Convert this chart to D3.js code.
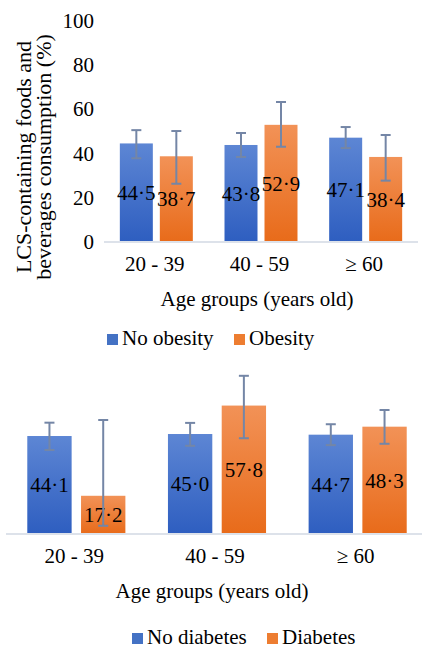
<!DOCTYPE html>
<html>
<head>
<meta charset="utf-8">
<script src="https://cdn.jsdelivr.net/npm/d3@7"></script>
<style>
  html, body { margin: 0; padding: 0; background: #fff; }
  svg { display: block; }
  text { font-family: "Liberation Serif", "Times New Roman", serif; fill: #000; }
</style>
</head>
<body>
<svg id="chart" width="422" height="651"></svg>
<script>
// ---- Data ----
const ageGroups = ["20 - 39", "40 - 59", "\u2265 60"];
const yTicks = [0, 20, 40, 60, 80, 100];

// Panel 1: obesity
const seriesObesity = ["No obesity", "Obesity"];
const noObesity = [44.5, 43.8, 47.1];
const noObesityLow = [37.8, 38.4, 42.4];
const noObesityHigh = [50.5, 49.2, 51.9];
const obesity = [38.7, 52.9, 38.4];
const obesityLow = [26.3, 43.0, 27.7];
const obesityHigh = [50.1, 63.2, 48.3];

// Panel 2: diabetes
const seriesDiabetes = ["No diabetes", "Diabetes"];
const noDiabetes = [44.1, 45.0, 44.7];
const noDiabetesLow = [37.8, 39.7, 40.0];
const noDiabetesHigh = [50.1, 50.0, 49.4];
const diabetes = [17.2, 57.8, 48.3];
const diabetesLow = [3.7, 43.1, 40.6];
const diabetesHigh = [51.3, 71.2, 55.8];

const xTitle = "Age groups (years old)";
const yTitleLines = ["LCS-containing foods and", "beverages consumption (%)"];

// ---- Drawing ----
const svg = d3.select("#chart");
const defs = svg.append("defs");
function grad(id, top, bottom) {
  const g = defs.append("linearGradient").attr("id", id)
    .attr("x1", 0).attr("y1", 0).attr("x2", 0).attr("y2", 1);
  g.append("stop").attr("offset", "0%").attr("stop-color", top);
  g.append("stop").attr("offset", "100%").attr("stop-color", bottom);
}
grad("gBlue", "#5d86d4", "#2e5ec0");
grad("gOrange", "#f29257", "#e86b1a");
const fills = ["url(#gBlue)", "url(#gOrange)"];
const swatch = ["#4472c4", "#ed7d31"];
const errColor = "#7486a6";
const axisColor = "#dde2ea";
const FS = 21;

function panel(opts) {
  const g = svg.append("g");
  const y = d3.scaleLinear().domain([0, 100]).range([opts.y0, opts.y100]);
  const x0 = d3.scaleBand().domain(ageGroups).range([opts.xl, opts.xr]).padding(0);
  const x1 = d3.scaleBand().domain(opts.series).range([0, x0.bandwidth()])
    .paddingInner(0.175).paddingOuter(0.396);

  if (opts.showY) {
    const ya = g.append("g").attr("transform", `translate(${opts.xl},0)`)
      .call(d3.axisLeft(y).tickValues(yTicks).tickSize(0).tickPadding(10));
    ya.select(".domain").remove();
    ya.selectAll("text").attr("font-size", FS).attr("font-family", "Liberation Serif").attr("fill", "#000");
  }

  const rows = opts.series.map((s, si) => ageGroups.map((a, i) => ({
    group: a, series: s, si,
    v: opts.vals[si][i], lo: opts.lows[si][i], hi: opts.highs[si][i]
  })));
  const all = rows.flat();

  // bars
  g.selectAll("rect.bar").data(all).join("rect").attr("class", "bar")
    .attr("x", d => x0(d.group) + x1(d.series))
    .attr("width", x1.bandwidth())
    .attr("y", d => y(d.v))
    .attr("height", d => y(0) - y(d.v))
    .attr("fill", d => fills[d.si]);

  // baseline
  g.append("line").attr("x1", opts.xl).attr("x2", opts.xr)
    .attr("y1", y(0)).attr("y2", y(0))
    .attr("stroke", axisColor).attr("stroke-width", 2);

  // value labels (centered in bar)
  g.selectAll("text.val").data(all).join("text").attr("class", "val")
    .attr("x", d => x0(d.group) + x1(d.series) + x1.bandwidth() / 2)
    .attr("y", d => (y(d.v) + y(0)) / 2)
    .attr("dy", "0.35em")
    .attr("text-anchor", "middle").attr("font-size", FS)
    .text(d => d3.format(".1f")(d.v).replace(".", "\u00b7"));

  // error bars
  const eb = g.selectAll("g.err").data(all).join("g").attr("class", "err")
    .attr("transform", d => `translate(${x0(d.group) + x1(d.series) + x1.bandwidth() / 2},0)`);
  eb.append("line").attr("y1", d => y(d.lo)).attr("y2", d => y(d.hi))
    .attr("stroke", errColor).attr("stroke-width", 2);
  eb.append("line").attr("x1", -5).attr("x2", 5).attr("y1", d => y(d.hi)).attr("y2", d => y(d.hi))
    .attr("stroke", errColor).attr("stroke-width", 2);
  eb.append("line").attr("x1", -5).attr("x2", 5).attr("y1", d => y(d.lo)).attr("y2", d => y(d.lo))
    .attr("stroke", errColor).attr("stroke-width", 2);

  // x tick labels
  const xa = g.append("g").attr("transform", `translate(0,${y(0)})`)
    .call(d3.axisBottom(x0).tickSize(0).tickPadding(opts.tickPad));
  xa.select(".domain").remove();
  xa.selectAll("text").attr("font-size", FS).attr("font-family", "Liberation Serif").attr("fill", "#000")
    .attr("dx", opts.tickDx);

  // x title
  g.append("text").attr("x", opts.titleX).attr("y", opts.titleY)
    .attr("text-anchor", "middle").attr("font-size", FS).text(xTitle);

  // legend
  opts.series.forEach((s, si) => {
    g.append("rect").attr("x", opts.legX[si]).attr("y", opts.legY - 11)
      .attr("width", 11).attr("height", 11).attr("fill", swatch[si]);
    g.append("text").attr("x", opts.legX[si] + 15).attr("y", opts.legY)
      .attr("font-size", FS).text(s);
  });
}

panel({
  series: seriesObesity,
  vals: [noObesity, obesity], lows: [noObesityLow, obesityLow], highs: [noObesityHigh, obesityHigh],
  y0: 242, y100: 20.5, xl: 104, xr: 418, showY: true,
  tickPad: 14, tickDx: -1.5, titleX: 257, titleY: 306,
  legX: [107, 234], legY: 345
});

panel({
  series: seriesDiabetes,
  vals: [noDiabetes, diabetes], lows: [noDiabetesLow, diabetesLow], highs: [noDiabetesHigh, diabetesHigh],
  y0: 534, y100: 311.8, xl: 6, xr: 428, showY: false,
  tickPad: 14, tickDx: -2, titleX: 212, titleY: 598,
  legX: [132, 267], legY: 644
});

// y-axis title (two rotated lines)
const yt = svg.append("text").attr("transform", "translate(0,157) rotate(-90)")
  .attr("text-anchor", "middle").attr("font-size", 22);
yt.append("tspan").attr("x", 0).attr("y", 31).text(yTitleLines[0]);
yt.append("tspan").attr("x", 0).attr("y", 51).text(yTitleLines[1]);
</script>
</body>
</html>
